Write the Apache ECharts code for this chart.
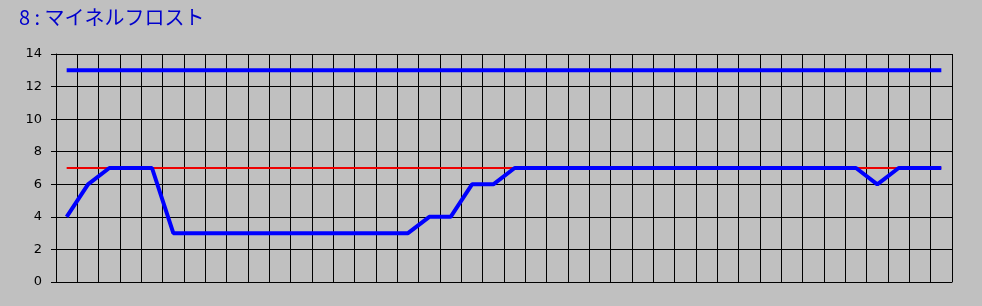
<!DOCTYPE html>
<html>
<head>
<meta charset="utf-8">
<script src="https://cdn.jsdelivr.net/npm/echarts@6/dist/echarts.min.js"></script>
<style>
html,body{margin:0;padding:0;background:#c0c0c0;}
#c{width:982px;height:306px;}
</style>
</head>
<body>
<div id="c"></div>
<script>
const titleText = "8 : マイネルフロスト";
const categories = [];
for (let i = 1; i <= 42; i++) categories.push(String(i));
const upperValues = [13,13,13,13,13,13,13,13,13,13,13,13,13,13,13,13,13,13,13,13,13,13,13,13,13,13,13,13,13,13,13,13,13,13,13,13,13,13,13,13,13,13];
const refValues = [7,7,7,7,7,7,7,7,7,7,7,7,7,7,7,7,7,7,7,7,7,7,7,7,7,7,7,7,7,7,7,7,7,7,7,7,7,7,7,7,7,7];
const mainValues = [4,6,7,7,7,3,3,3,3,3,3,3,3,3,3,3,3,4,4,6,6,7,7,7,7,7,7,7,7,7,7,7,7,7,7,7,7,7,6,7,7,7];
const yTicks = {min:0, max:14, interval:2};

const chart = echarts.init(document.getElementById('c'), null, {renderer:'canvas'});
chart.setOption({
  backgroundColor:'#c0c0c0',
  animation:false,
  title:{
    text:titleText, left:14, top:2,
    textStyle:{color:'#0000cc', fontSize:20, fontWeight:'normal', fontFamily:'"Noto Sans CJK JP", sans-serif'}
  },
  grid:{left:56, right:30, top:54, bottom:24, containLabel:false},
  xAxis:{
    type:'category', data:categories, boundaryGap:true,
    axisLine:{show:true, lineStyle:{color:'#000', width:1}},
    axisTick:{show:false},
    axisLabel:{show:false},
    splitLine:{show:true, interval:0, lineStyle:{color:'#000', width:1}}
  },
  yAxis:{
    type:'value', min:yTicks.min, max:yTicks.max, interval:yTicks.interval,
    axisLine:{show:true, lineStyle:{color:'#000', width:1}},
    axisTick:{show:true, length:5, lineStyle:{color:'#000'}},
    axisLabel:{color:'#000', fontSize:13, margin:14, fontFamily:'"DejaVu Sans", sans-serif'},
    splitLine:{show:true, lineStyle:{color:'#000', width:1}}
  },
  series:[
    {type:'line', data:refValues, symbol:'none', lineStyle:{color:'#ee0000', width:2}},
    {type:'line', data:upperValues, symbol:'none', lineStyle:{color:'#0000ff', width:4}},
    {type:'line', data:mainValues, symbol:'none', lineStyle:{color:'#0000ff', width:4}}
  ]
});
</script>
</body>
</html>
